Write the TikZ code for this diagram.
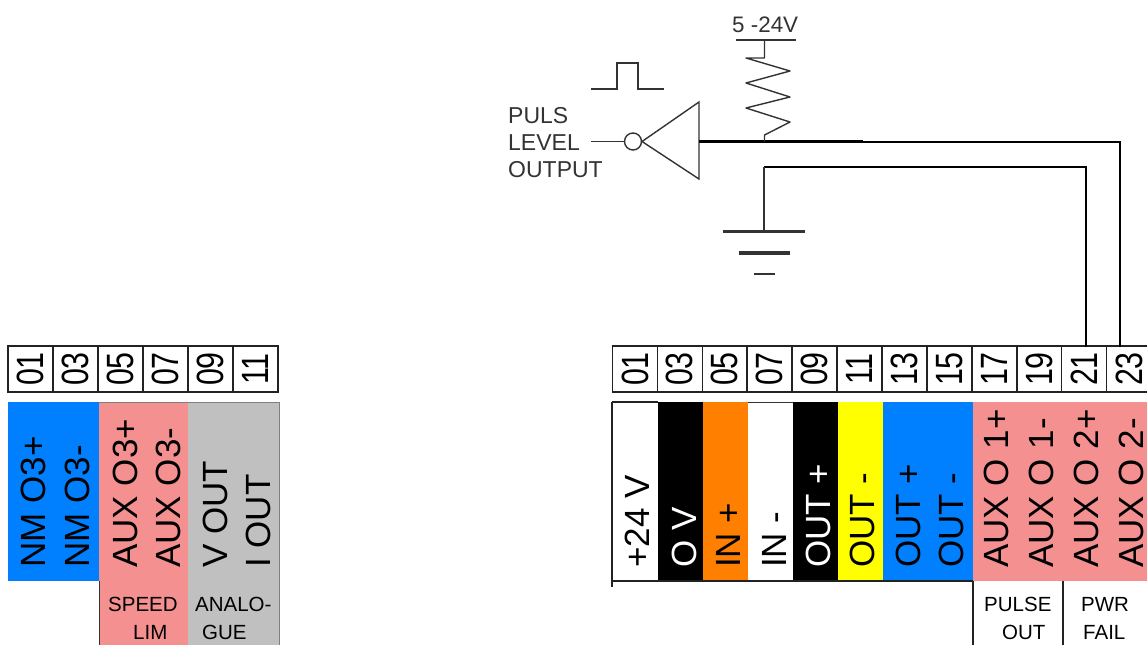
\documentclass[tikz,border=0pt]{standalone}
\usepackage{fontspec}
\setmainfont{Liberation Sans}
\definecolor{cblue}{HTML}{0080FF}
\definecolor{cpink}{HTML}{F49090}
\definecolor{cgray}{HTML}{C0C0C0}
\definecolor{corange}{HTML}{FF8000}
\definecolor{cyell}{HTML}{FFFF00}
\definecolor{cline}{HTML}{222222}
\definecolor{cgrey}{HTML}{333333}
\newcommand{\numtxt}[1]{\fontsize{38}{38}\selectfont\scalebox{0.8}[1]{#1}}
\tikzset{
  cell/.style={draw=cline,line width=1.6pt,rotate=90,inner sep=0pt,minimum height=45pt,minimum width=46pt,anchor=center},
  pinlab/.style={rotate=90,anchor=base west,inner sep=0pt,font=\fontsize{35}{35}\selectfont},
  sublab/.style={anchor=base west,inner sep=0pt,font=\fontsize{20.5}{20.5}\selectfont,text=black},
  ctlab/.style={anchor=base west,inner sep=0pt,font=\fontsize{23}{23}\selectfont,text=cgrey},
  wire/.style={draw=black,line width=2pt},
  thin wire/.style={draw=cgrey,line width=1.4pt},
}
\begin{document}
\begin{tikzpicture}[x=1pt,y=-1pt]
\useasboundingbox (0,0) rectangle (1147,645);
\clip (0,0) rectangle (1147,645);
\fill[white] (0,0) rectangle (1147,645);
% left header
\foreach \n/\t [count=\i from 0] in {l01/01,l03/03,l05/05,l07/07,l09/09,l11/11}
  \node[cell] (\n) at ({30.5+45*\i},369) {\numtxt{\t}};
% left colours
\fill[cblue] (8,402) rectangle (99,581);
\fill[cpink] (99,402) rectangle (188,645);
\fill[cgray] (188,402) rectangle (279,645);
\draw[draw=cgrey,line width=0.8pt] (99,581) -- (99,645);
\draw[draw=gray,line width=0.5pt] (99,402) -- (279,402) -- (279,645);
% left labels
\node[pinlab] (lt1) at (45,568) {NM O3+};
\node[pinlab] (lt2) at (89,568) {NM O3-};
\node[pinlab] (lt3) at (137,568) {AUX O3+};
\node[pinlab] (lt4) at (180,568) {AUX O3-};
\node[pinlab] (lt5) at (227,568) {V OUT};
\node[pinlab] (lt6) at (270,568) {I OUT};
\node[sublab] (ls1) at (108,611) {SPEED};
\node[sublab] (ls2) at (133,639) {LIM};
\node[sublab] (ls3) at (195,611) {ANALO-};
\node[sublab] (ls4) at (202,639) {GUE};
% right header
\foreach \n/\t [count=\i from 0] in {r01/01,r03/03,r05/05,r07/07,r09/09,r11/11,r13/13,r15/15,r17/17,r19/19,r21/21,r23/23}
  \node[cell] (\n) at ({635+44.9*\i},369) {\numtxt{\t}};
% right colours
\fill[black] (658,402) rectangle (703,581);
\fill[corange] (703,402) rectangle (748,581);
\fill[black] (793,402) rectangle (838,581);
\fill[cyell] (838,402) rectangle (883,581);
\fill[cblue] (883,402) rectangle (973,581);
\fill[cpink] (973,402) rectangle (1147,581);
\draw[cline,line width=1.4pt] (612,402) -- (658,402);
\draw[cgrey,line width=0.8pt] (748,402.5) -- (793,402.5);
\draw[cline,line width=1.4pt] (612,402) -- (612,587);
\draw[cline,line width=1.4pt] (611,581) -- (973,581);
\draw[cline,line width=1.4pt] (973,581) -- (973,645);
\draw[cline,line width=1.4pt] (1063,581) -- (1063,645);
% right labels
\node[pinlab,text=black] (rt1) at (649,568) {+24 V};
\node[pinlab,text=white] (rt2) at (696,568) {O V};
\node[pinlab,text=black] (rt3) at (740,568) {IN +};
\node[pinlab,text=black] (rt4) at (786,568) {IN -};
\node[pinlab,text=white] (rt5) at (830,568) {OUT +};
\node[pinlab,text=black] (rt6) at (874,568) {OUT -};
\node[pinlab,text=black] (rt7) at (920,568) {OUT +};
\node[pinlab,text=black] (rt8) at (963,568) {OUT -};
\node[pinlab,text=black] (rt9) at (1008,568) {AUX O 1+};
\node[pinlab,text=black] (rt10) at (1053,568) {AUX O 1-};
\node[pinlab,text=black] (rt11) at (1098,568) {AUX O 2+};
\node[pinlab,text=black] (rt12) at (1143,568) {AUX O 2-};
\node[sublab] (rs1) at (984,611) {PULSE};
\node[sublab] (rs2) at (1002,639) {OUT};
\node[sublab] (rs3) at (1081,611) {PWR};
\node[sublab] (rs4) at (1083,639) {FAIL};
% circuit
\node[ctlab,font=\fontsize{22.4}{22.4}\selectfont] (vs) at (732,32) {5 -24V};
\node[ctlab] (p1) at (508,123) {PULS};
\node[ctlab] (p2) at (508,150) {LEVEL};
\node[ctlab] (p3) at (508,177) {OUTPUT};
\coordinate (rtop) at (764.5,40);
\coordinate (junc) at (764.5,141.5);
\coordinate (gndj) at (764,167);
\coordinate (gnd) at (764,231);
\coordinate (t21) at (1086,347);
\coordinate (t23) at (1120,347);
\coordinate (in) at (591,141.5);
\coordinate (thick) at (863,141.5);
\node[draw=cgrey,line width=1.4pt,circle,inner sep=0pt,minimum size=17pt,fill=white] (bub) at (633,141.5) {};
\coordinate (apex) at (642,141.5);
\coordinate (outp) at (699,141.5);
% pulse
\draw[thin wire] (591,89) -- (617,89) -- (617,63) -- (638,63) -- (638,89) -- (664,89);
\draw[thin wire] (in) -- (bub.west);
\draw[thin wire,line join=miter] (apex) -- (699,102) -- (699,179) -- cycle;
% output
\draw[wire,line join=miter] (outp) -- (t23 |- outp) -- (t23);
\draw[wire,line width=3pt] (outp) -- (thick);
\draw[wire,line width=2.2pt] (t21) -- (t21 |- gndj) -- (gndj);
\draw[thin wire] (gndj) -- (gnd);
% supply + resistor
\draw[draw=cgrey,line width=2pt] (736,40) -- (796,40);
\draw[thin wire,line join=round] (rtop) -- (764.5,58) -- (746,58) -- (790,71) -- (746,83) -- (790,97) -- (746,108) -- (790,122) -- (764.5,135) -- (junc);
% ground
\draw[draw=cgrey,line width=3pt] (723,231) -- (805,231);
\draw[draw=cgrey,line width=3.5pt] (739,253) -- (790,253);
\draw[draw=cgrey,line width=2.5pt] (754,274) -- (775,274);
\end{tikzpicture}
\end{document}
